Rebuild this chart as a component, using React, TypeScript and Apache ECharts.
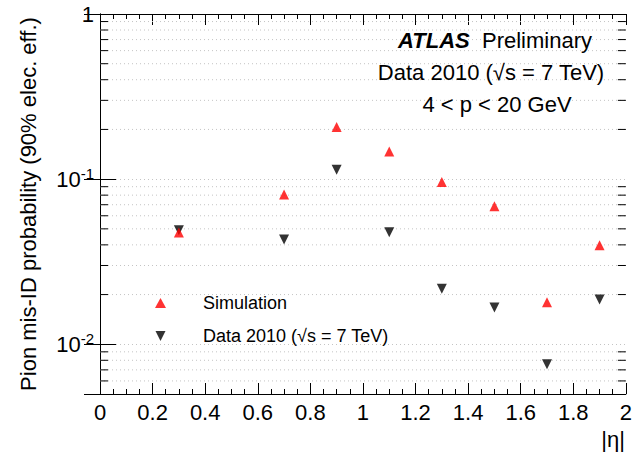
import React, { useEffect, useRef } from 'react';
import * as echarts from 'echarts';

// |eta| bin centres
const etaBins = [0.3, 0.7, 0.9, 1.1, 1.3, 1.5, 1.7, 1.9];
// Pion mis-ID probability at 90% electron efficiency
const simulation = [0.0475, 0.0806, 0.2067, 0.147, 0.0962, 0.0685, 0.018, 0.0398];
const data2010 = [0.049, 0.0431, 0.114, 0.0477, 0.0217, 0.0167, 0.00757, 0.0187];
// log-axis minor ticks (2..9 x decade)
const yMinorTicks = [0.006, 0.007, 0.008, 0.009, 0.02, 0.03, 0.04, 0.05, 0.06, 0.07, 0.08, 0.09, 0.2, 0.3, 0.4, 0.5, 0.6, 0.7, 0.8, 0.9];
const yMin = 0.005;
const yMax = 1;
const xMin = 0;
const xMax = 2;
const xStep = 0.2;

const seriesNames = ['Simulation', 'Data 2010 (√s = 7 TeV)'];
const FONT = '"Liberation Sans", Arial, Helvetica, sans-serif';

export default function App() {
  const ref = useRef<HTMLDivElement>(null);
  useEffect(() => {
    if (!ref.current) return;
    const chart = echarts.init(ref.current, undefined, { renderer: 'svg' });
    const yLabel = (v: number) => {
      if (Math.abs(v - 1) < 1e-9) return '1';
      const e = Math.round(Math.log10(v));
      if (Math.abs(Math.log10(v) - e) < 1e-6) return '10{sup|' + e + '}';
      return '';
    };
    const option: any = {
      animation: false,
      backgroundColor: '#fff',
      textStyle: { fontFamily: FONT, color: '#000' },
      grid: { left: 100, right: 6, top: 14, bottom: 67 },
      legend: {
        data: [
          { name: seriesNames[0], icon: 'triangle' },
          { name: seriesNames[1], icon: 'path://M0,0L2,0L1,2Z' },
        ],
        orient: 'vertical',
        left: 150,
        top: 289,
        itemWidth: 11,
        itemHeight: 10,
        itemGap: 15,
        textStyle: { fontSize: 18, fontFamily: FONT, color: '#000', padding: [0, 0, 0, 32] },
      },
      xAxis: [
        {
          type: 'value', min: xMin, max: xMax, interval: xStep, position: 'bottom',
          name: '|η|', nameLocation: 'end', nameGap: -1,
          nameTextStyle: { fontSize: 22, fontFamily: FONT, color: '#000', align: 'right', verticalAlign: 'top', padding: [34, 0, 0, 0] },
          axisLine: { show: true, lineStyle: { color: '#000', width: 1 } },
          axisTick: { show: true, inside: true, length: 11, lineStyle: { color: '#000' } },
          minorTick: { show: true, splitNumber: 4, length: 5, lineStyle: { color: '#000' } },
          axisLabel: { fontSize: 22, fontFamily: FONT, color: '#000', margin: 7 },
          splitLine: { show: false },
        },
        {
          type: 'value', min: xMin, max: xMax, interval: xStep, position: 'top',
          axisLine: { show: true, lineStyle: { color: '#000', width: 1 } },
          axisTick: { show: true, inside: true, length: 11, lineStyle: { color: '#000' } },
          minorTick: { show: true, splitNumber: 4, length: 5, lineStyle: { color: '#000' } },
          axisLabel: { show: false },
          splitLine: { show: false },
        },
      ],
      yAxis: [
        {
          type: 'log', logBase: 10, min: yMin, max: yMax, position: 'left',
          name: 'Pion mis-ID probability (90% elec. eff.)', nameLocation: 'middle', nameGap: 61,
          nameTextStyle: { fontSize: 22, fontFamily: FONT, color: '#000' },
          axisLine: { show: true, lineStyle: { color: '#000', width: 1 } },
          axisTick: { show: true, inside: true, length: 16, lineStyle: { color: '#000' } },
          axisLabel: {
            fontSize: 22, fontFamily: FONT, color: '#000', margin: 6,
            formatter: yLabel,
            rich: { sup: { fontSize: 15, fontFamily: FONT, color: '#000', verticalAlign: 'bottom', padding: [0, 0, 12, 0] } },
          },
          splitLine: { show: true, lineStyle: { color: '#c4c4c4', width: 1, type: [1, 3] } },
        },
        {
          type: 'log', logBase: 10, min: yMin, max: yMax, position: 'right',
          axisLine: { show: true, lineStyle: { color: '#000', width: 1 } },
          axisTick: { show: true, inside: true, length: 16, lineStyle: { color: '#000' } },
          axisLabel: { show: false },
          splitLine: { show: false },
        },
      ],
      series: [
        {
          type: 'custom',
          name: 'minor',
          silent: true,
          z: 1,
          xAxisIndex: 0,
          yAxisIndex: 0,
          encode: { x: 0, y: 1 },
          data: yMinorTicks.map((v) => [xMin, v]),
          renderItem: (params: any, api: any) => {
            const p = api.coord([xMin, api.value(1)]);
            const cs = params.coordSys;
            const y = p[1];
            return {
              type: 'group',
              children: [
                { type: 'line', shape: { x1: cs.x, y1: y, x2: cs.x + cs.width, y2: y }, style: { stroke: '#c4c4c4', lineWidth: 1, lineDash: [1, 3] } },
                { type: 'line', shape: { x1: cs.x, y1: y, x2: cs.x + 8, y2: y }, style: { stroke: '#000', lineWidth: 1 } },
                { type: 'line', shape: { x1: cs.x + cs.width - 8, y1: y, x2: cs.x + cs.width, y2: y }, style: { stroke: '#000', lineWidth: 1 } },
              ],
            };
          },
        },
        {
          type: 'scatter',
          name: seriesNames[1],
          symbol: 'triangle',
          symbolRotate: 180,
          symbolSize: 10,
          z: 3,
          itemStyle: { color: '#000' },
          data: etaBins.map((x, i) => [x, data2010[i]]),
        },
        {
          type: 'scatter',
          name: seriesNames[0],
          symbol: 'triangle',
          symbolSize: 10,
          z: 4,
          itemStyle: { color: '#ff0000' },
          data: etaBins.map((x, i) => [x, simulation[i]]),
        },
      ],
      graphic: [
        {
          type: 'text', x: 495, y: 40, z: 10,
          style: {
            text: '{b|ATLAS}  Preliminary',
            fontSize: 22, fontFamily: FONT, fill: '#000', align: 'center', verticalAlign: 'middle',
            rich: { b: { fontSize: 22, fontFamily: FONT, fontWeight: 'bold', fontStyle: 'italic', fill: '#000' } },
          },
        },
        {
          type: 'text', x: 491, y: 72, z: 10,
          style: { text: 'Data 2010 (√s = 7 TeV)', fontSize: 22, fontFamily: FONT, fill: '#000', align: 'center', verticalAlign: 'middle' },
        },
        {
          type: 'text', x: 497, y: 104, z: 10,
          style: { text: '4 < p < 20 GeV', fontSize: 22, fontFamily: FONT, fill: '#000', align: 'center', verticalAlign: 'middle' },
        },
      ],
    };
    chart.setOption(option);
    return () => chart.dispose();
  }, []);
  return <div ref={ref} style={{ width: 635, height: 461, position: 'absolute', left: 0, top: 0 }} />;
}
